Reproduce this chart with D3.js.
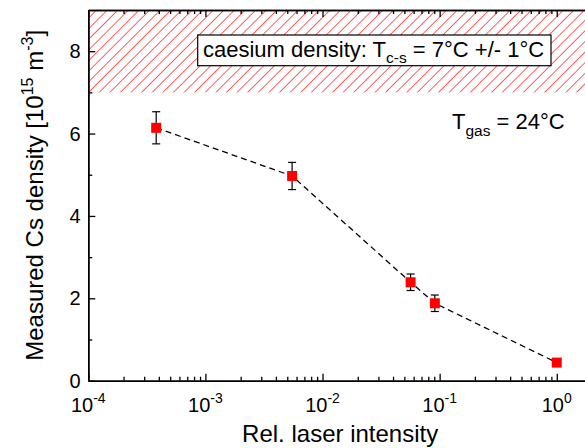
<!DOCTYPE html>
<html>
<head>
<meta charset="utf-8">
<script src="https://cdn.jsdelivr.net/npm/d3@7"></script>
<style>
body { margin: 0; background: #fff; }
text { font-family: Arial, "Liberation Sans", sans-serif; fill: #000; }
</style>
</head>
<body>
<svg id="chart" width="585" height="448"></svg>
<script>
// measured points (x = rel. laser intensity, y = Cs density in 1e15 m^-3)
var intensity = [3.8e-4, 5.5e-3, 0.0565, 0.091, 1.0];
var density = [6.14, 4.97, 2.39, 1.88, 0.44];
var densityErr = [0.39, 0.33, 0.20, 0.20, 0.05];

// axis ticks
var xMajor = [1e-4, 1e-3, 1e-2, 1e-1, 1];
var xExp = ["-4", "-3", "-2", "-1", "0"];
var yMajor = [0, 2, 4, 6, 8];
var yMinor = [1, 3, 5, 7];

// caesium vapour pressure band (T = 7 +/- 1 °C)
var cesiumBand = [7, 9];

var margins = { top: 10, left: 88.3, bottom: 380.7, right: 592 };

var svg = d3.select("#chart");

var x = d3.scaleLog()
    .domain([1e-4, 2])
    .range([margins.left, margins.right]);
var y = d3.scaleLinear()
    .domain([0, 9])
    .range([margins.bottom, margins.top]);

// hatch pattern
var defs = svg.append("defs");
defs.append("pattern")
    .attr("id", "hatch")
    .attr("patternUnits", "userSpaceOnUse")
    .attr("width", 7.5)
    .attr("height", 7.5)
    .attr("patternTransform", "rotate(45)")
    .append("line")
    .attr("x1", 0).attr("y1", 0)
    .attr("x2", 0).attr("y2", 7.5)
    .attr("stroke", "#ff0000")
    .attr("stroke-width", 1.25);

svg.append("rect")
    .attr("x", x(1e-4))
    .attr("y", y(cesiumBand[1]))
    .attr("width", x(2) - x(1e-4))
    .attr("height", y(cesiumBand[0]) - y(cesiumBand[1]))
    .attr("fill", "url(#hatch)");

// minor x ticks from the log scale
var xMinor = x.ticks().filter(function (d) {
    return xMajor.indexOf(d) < 0;
});

function styleAxis(g) {
    g.select(".domain").attr("stroke", "#000").attr("stroke-width", 1.5);
    g.selectAll(".tick line").attr("stroke", "#000").attr("stroke-width", 1.3);
}

// bottom
svg.append("g")
    .attr("transform", "translate(0," + margins.bottom + ")")
    .call(d3.axisBottom(x).tickValues(xMajor).tickSize(-7).tickSizeOuter(0).tickFormat(""))
    .call(styleAxis);
svg.append("g")
    .attr("transform", "translate(0," + margins.bottom + ")")
    .call(d3.axisBottom(x).tickValues(xMinor).tickSize(-4).tickSizeOuter(0).tickFormat(""))
    .call(styleAxis);
// top
svg.append("g")
    .attr("transform", "translate(0," + margins.top + ")")
    .call(d3.axisTop(x).tickValues(xMajor).tickSize(-7).tickSizeOuter(0).tickFormat(""))
    .call(styleAxis);
svg.append("g")
    .attr("transform", "translate(0," + margins.top + ")")
    .call(d3.axisTop(x).tickValues(xMinor).tickSize(-4).tickSizeOuter(0).tickFormat(""))
    .call(styleAxis);
// left
svg.append("g")
    .attr("transform", "translate(" + margins.left + ",0)")
    .call(d3.axisLeft(y).tickValues(yMajor).tickSize(-7).tickSizeOuter(0).tickFormat(""))
    .call(styleAxis);
svg.append("g")
    .attr("transform", "translate(" + margins.left + ",0)")
    .call(d3.axisLeft(y).tickValues(yMinor).tickSize(-4).tickSizeOuter(0).tickFormat(""))
    .call(styleAxis);
// right
svg.append("g")
    .attr("transform", "translate(" + margins.right + ",0)")
    .call(d3.axisRight(y).tickValues(yMajor).tickSize(-7).tickSizeOuter(0).tickFormat(""))
    .call(styleAxis);
svg.append("g")
    .attr("transform", "translate(" + margins.right + ",0)")
    .call(d3.axisRight(y).tickValues(yMinor).tickSize(-4).tickSizeOuter(0).tickFormat(""))
    .call(styleAxis);

// tick labels
var xl = svg.append("g").selectAll("text")
    .data(xMajor)
    .enter()
    .append("text")
    .attr("x", function (d) { return x(d); })
    .attr("y", 411.5)
    .attr("text-anchor", "middle")
    .style("font-size", "20px");
xl.append("tspan").text("10");
xl.append("tspan")
    .attr("dy", -9)
    .style("font-size", "14px")
    .text(function (d, i) { return xExp[i]; });

svg.append("g").selectAll("text")
    .data(yMajor)
    .enter()
    .append("text")
    .attr("x", 80.5)
    .attr("y", function (d) { return y(d) + 7; })
    .attr("text-anchor", "end")
    .style("font-size", "20px")
    .text(function (d) { return d; });

// axis titles
svg.append("text")
    .attr("x", (margins.left + margins.right) / 2)
    .attr("y", 442)
    .attr("text-anchor", "middle")
    .style("font-size", "24px")
    .text("Rel. laser intensity");

var yt = svg.append("text")
    .attr("transform", "translate(43," + ((margins.top + margins.bottom) / 2) + ") rotate(-90)")
    .attr("text-anchor", "middle")
    .style("font-size", "24px");
yt.append("tspan").text("Measured Cs density [10");
yt.append("tspan").attr("dy", -10).style("font-size", "16px").text("15");
yt.append("tspan").attr("dy", 10).text(" m");
yt.append("tspan").attr("dy", -10).style("font-size", "16px").text("-3");
yt.append("tspan").attr("dy", 10).text("]");

// annotation box
svg.append("rect")
    .attr("x", 197.7)
    .attr("y", 35)
    .attr("width", 353.3)
    .attr("height", 30.7)
    .attr("fill", "#fff")
    .attr("stroke", "#000")
    .attr("stroke-width", 1.2);

var bt = svg.append("text")
    .attr("x", 203)
    .attr("y", 57)
    .style("font-size", "22px");
bt.append("tspan").text("caesium density: T");
bt.append("tspan").attr("dy", 6).style("font-size", "15.5px").text("c-s");
bt.append("tspan").attr("dy", -6).text(" = 7°C +/- 1°C");

var gt = svg.append("text")
    .attr("x", 452)
    .attr("y", 129)
    .style("font-size", "22px");
gt.append("tspan").text("T");
gt.append("tspan").attr("dy", 7).style("font-size", "15.5px").text("gas");
gt.append("tspan").attr("dy", -7).text(" = 24°C");

// data
var points = intensity.map(function (d, i) {
    return { x: d, y: density[i], e: densityErr[i] };
});

var line = d3.line()
    .x(function (d) { return x(d.x); })
    .y(function (d) { return y(d.y); });

svg.append("path")
    .datum(points)
    .attr("d", line)
    .attr("fill", "none")
    .attr("stroke", "#000")
    .attr("stroke-width", 1.3)
    .attr("stroke-dasharray", "6,4");

var err = svg.append("g")
    .attr("stroke", "#000")
    .attr("stroke-width", 1.2)
    .selectAll("g")
    .data(points)
    .enter()
    .append("g");
err.append("line")
    .attr("x1", function (d) { return x(d.x); })
    .attr("x2", function (d) { return x(d.x); })
    .attr("y1", function (d) { return y(d.y - d.e); })
    .attr("y2", function (d) { return y(d.y + d.e); });
err.append("line")
    .attr("x1", function (d) { return x(d.x) - 4; })
    .attr("x2", function (d) { return x(d.x) + 4; })
    .attr("y1", function (d) { return y(d.y - d.e); })
    .attr("y2", function (d) { return y(d.y - d.e); });
err.append("line")
    .attr("x1", function (d) { return x(d.x) - 4; })
    .attr("x2", function (d) { return x(d.x) + 4; })
    .attr("y1", function (d) { return y(d.y + d.e); })
    .attr("y2", function (d) { return y(d.y + d.e); });

svg.append("g")
    .selectAll("rect")
    .data(points)
    .enter()
    .append("rect")
    .attr("x", function (d) { return x(d.x) - 5; })
    .attr("y", function (d) { return y(d.y) - 5; })
    .attr("width", 10)
    .attr("height", 10)
    .attr("fill", "#ff0000");
</script>
</body>
</html>
